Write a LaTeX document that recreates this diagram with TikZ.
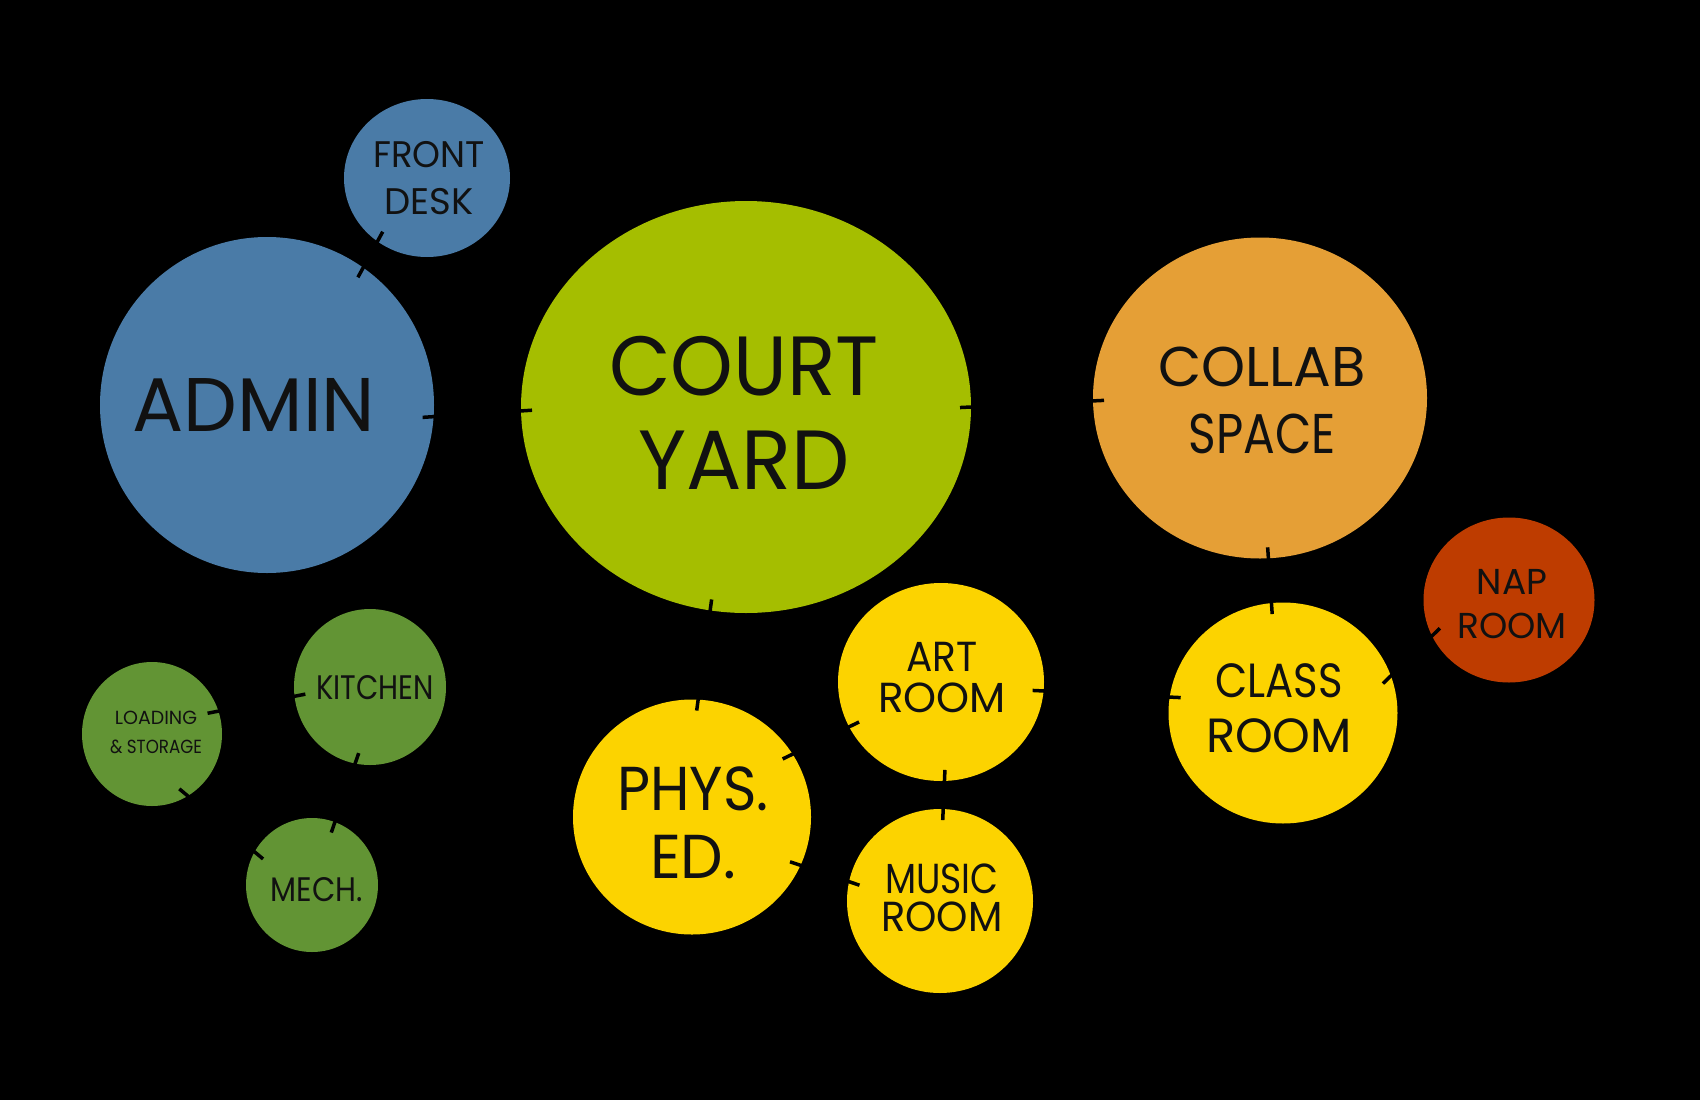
\documentclass[tikz,border=0pt]{standalone}
\usepackage{fontspec}
\usepackage{graphicx}
\setmainfont{Poppins}
\usetikzlibrary{shapes.geometric}
\definecolor{cblue}{HTML}{4A7BA7}
\definecolor{clime}{HTML}{A5BE00}
\definecolor{cgreen}{HTML}{629434}
\definecolor{cyellow}{HTML}{FCD300}
\definecolor{corange}{HTML}{E59F36}
\definecolor{cred}{HTML}{BE3C00}
\definecolor{ctext}{HTML}{111111}
\newcommand{\hsq}[2]{\scalebox{#1}[1]{#2}}
\begin{document}
\begin{tikzpicture}[x=1pt,y=-1pt,
  bub/.style={ellipse, inner sep=0pt, outer sep=0pt, draw=none},
  lbl/.style={align=center, text=ctext, inner sep=0pt},
  conn/.style={draw=black, line width=3.5pt, shorten <=-11pt, shorten >=-11pt}]
\fill[black] (0,0) rectangle (1700,1100);
\useasboundingbox (0,0) rectangle (1700,1100);
% bubbles
\node[bub, fill=cblue, minimum width=166pt, minimum height=158pt] (front) at (427,178) {};
\node[bub, fill=cblue, minimum width=334pt, minimum height=336pt] (admin) at (267,405) {};
\node[bub, fill=clime, minimum width=450pt, minimum height=412pt] (court) at (746,407) {};
\node[bub, fill=corange, minimum width=334pt, minimum height=321pt] (collab) at (1260,398) {};
\node[bub, fill=cred, minimum width=171pt, minimum height=165pt] (nap) at (1509,600) {};
\node[bub, fill=cyellow, minimum width=229pt, minimum height=221pt] (class) at (1283,713) {};
\node[bub, fill=cyellow, minimum width=206pt, minimum height=198pt] (art) at (941,682) {};
\node[bub, fill=cyellow, minimum width=186pt, minimum height=184pt] (music) at (940,901) {};
\node[bub, fill=cyellow, minimum width=238pt, minimum height=235pt] (phys) at (692,817) {};
\node[bub, fill=cgreen, minimum width=152pt, minimum height=156pt] (kitchen) at (370,687) {};
\node[bub, fill=cgreen, minimum width=140pt, minimum height=144pt] (loading) at (152,734) {};
\node[bub, fill=cgreen, minimum width=132pt, minimum height=134pt] (mech) at (312,885) {};
% labels
\node[lbl, font=\fontsize{37}{47}\selectfont] (front-t) at (429,178) {\hsq{0.96}{FRONT}\\DESK};
\node[lbl, font=\fontsize{76}{90}\selectfont] (admin-t) at (254,405) {ADMIN};
\node[lbl, font=\fontsize{84}{94}\selectfont] (court-t) at (744,413) {\hsq{0.95}{COURT}\\\hsq{0.98}{YARD}};
\node[lbl, font=\fontsize{56}{67}\selectfont] (collab-t) at (1262,400) {COLLAB\\\hsq{0.84}{SPACE}};
\node[lbl, font=\fontsize{36}{44}\selectfont] (nap-t) at (1512,604) {NAP\\ROOM};
\node[lbl, font=\fontsize{48}{55}\selectfont] (class-t) at (1279,708) {\hsq{0.87}{CLASS}\\ROOM};
\node[lbl, font=\fontsize{42}{41}\selectfont] (art-t) at (942,678) {\hsq{0.93}{ART}\\ROOM};
\node[lbl, font=\fontsize{42}{38}\selectfont] (music-t) at (942,898) {\hsq{0.86}{MUSIC}\\\hsq{0.95}{ROOM}};
\node[lbl, font=\fontsize{62}{68}\selectfont] (phys-t) at (693,823) {\hsq{0.92}{PHYS.}\\\hsq{0.97}{ED.}};
\node[lbl, font=\fontsize{34}{40}\selectfont] (kitchen-t) at (375,688) {\hsq{0.85}{KITCHEN}};
\node[lbl, font=\fontsize{19}{29}\selectfont] (loading-t) at (156,732) {LOADING\\\hsq{0.88}{\& STORAGE}};
\node[lbl, font=\fontsize{34}{40}\selectfont] (mech-t) at (317,890) {\hsq{0.89}{MECH.}};
% connectors
\draw[conn] (front.232) -- (admin.55.4);
\draw[conn] (admin.-4.5) -- (court.181);
\draw[conn] (court.0.5) -- (collab.181);
\draw[conn] (court.-100.2) -- (phys.87.6);
\draw[conn] (collab.-87.1) -- (class.96.7);
\draw[conn] (class.19.6) -- (nap.205);
\draw[conn] (art.-5.6) -- (class.172.9);
\draw[conn] (art.-88.8) -- (music.88.1);
\draw[conn] (art.206.3) -- (phys.32.2);
\draw[conn] (phys.-24.8) -- (music.168.7);
\draw[conn] (loading.19.2) -- (kitchen.187.5);
\draw[conn] (kitchen.-101.2) -- (mech.70);
\draw[conn] (loading.-60.9) -- (mech.150.1);
\end{tikzpicture}
\end{document}
